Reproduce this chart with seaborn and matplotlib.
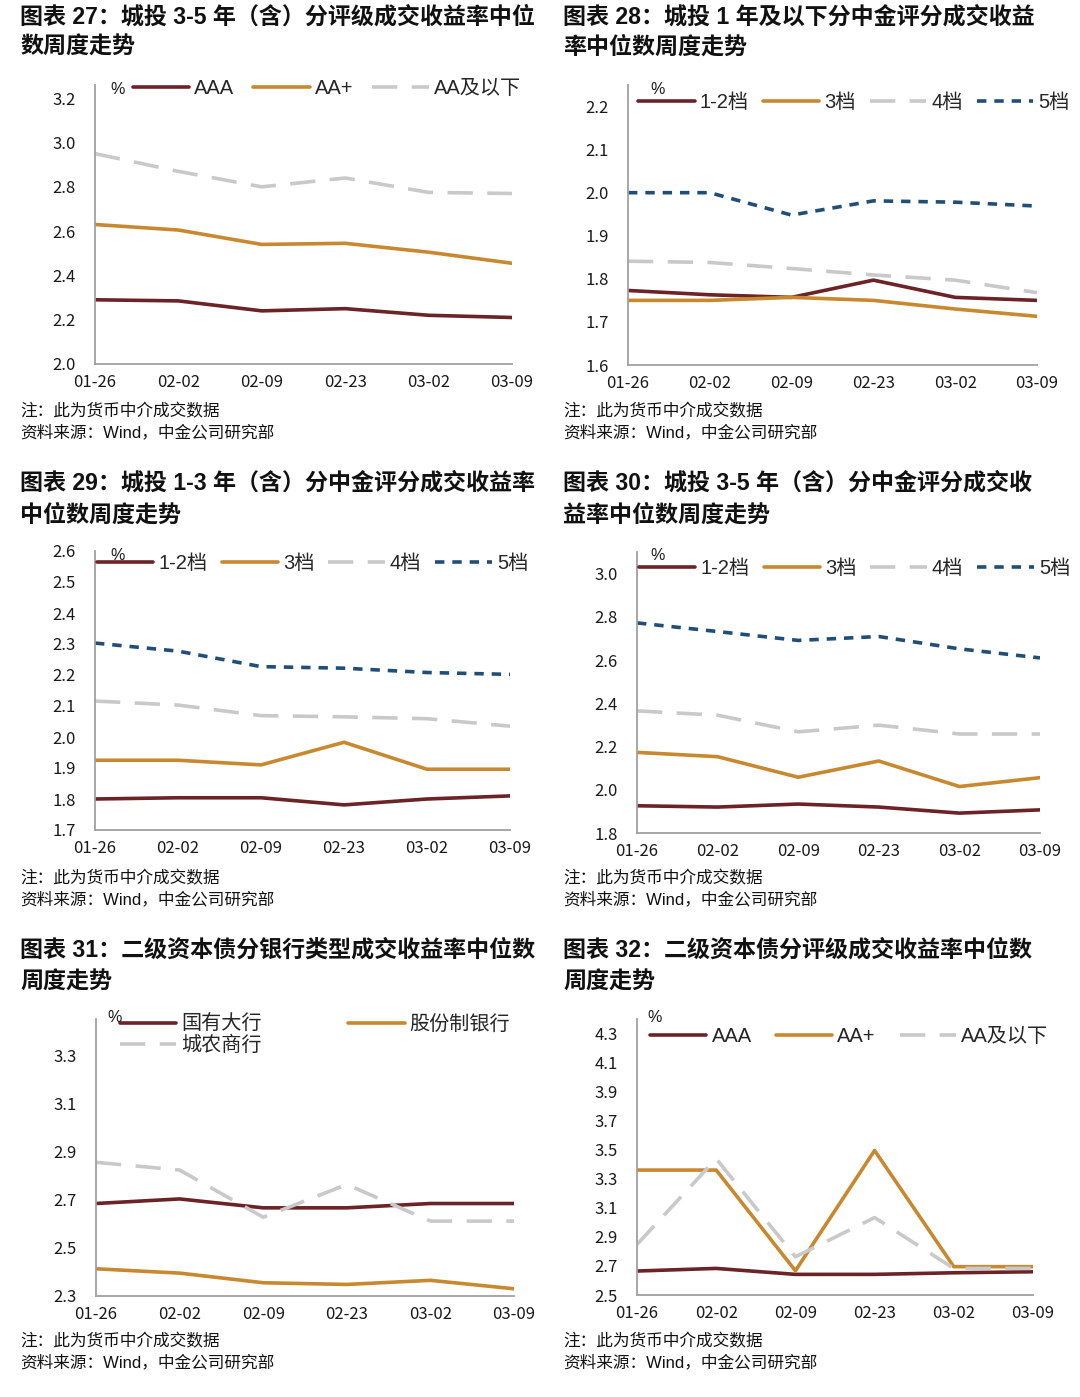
import numpy as np
import pandas as pd
import matplotlib
matplotlib.use("Agg")
import matplotlib.pyplot as plt
import seaborn as sns

# ---------------- data ----------------
dates = ['01-26', '02-02', '02-09', '02-23', '03-02', '03-09']

f27_names = ['AAA', 'AA+', 'AA及以下']
f27_aaa = [2.29, 2.285, 2.24, 2.25, 2.22, 2.21]
f27_aaplus = [2.63, 2.605, 2.54, 2.545, 2.505, 2.455]
f27_aa_below = [2.95, 2.87, 2.80, 2.84, 2.775, 2.77]

tier_names = ['1-2档', '3档', '4档', '5档']
f28_t12 = [1.773, 1.763, 1.757, 1.797, 1.757, 1.750]
f28_t3 = [1.750, 1.750, 1.757, 1.750, 1.730, 1.713]
f28_t4 = [1.841, 1.838, 1.824, 1.809, 1.797, 1.768]
f28_t5 = [2.000, 2.000, 1.948, 1.981, 1.978, 1.969]

f29_t12 = [1.800, 1.804, 1.804, 1.781, 1.800, 1.810]
f29_t3 = [1.925, 1.925, 1.910, 1.983, 1.896, 1.896]
f29_t4 = [2.116, 2.103, 2.069, 2.065, 2.059, 2.035]
f29_t5 = [2.303, 2.277, 2.227, 2.222, 2.208, 2.202]

f30_t12 = [1.926, 1.920, 1.934, 1.920, 1.892, 1.907]
f30_t3 = [2.173, 2.153, 2.058, 2.133, 2.015, 2.056]
f30_t4 = [2.365, 2.345, 2.268, 2.299, 2.258, 2.258]
f30_t5 = [2.772, 2.732, 2.691, 2.709, 2.652, 2.610]

f31_names = ['国有大行', '股份制银行', '城农商行']
f31_state = [2.684, 2.703, 2.666, 2.666, 2.684, 2.684]
f31_joint = [2.413, 2.395, 2.355, 2.348, 2.365, 2.330]
f31_rural = [2.855, 2.823, 2.627, 2.763, 2.611, 2.611]

f32_names = ['AAA', 'AA+', 'AA及以下']
f32_aaa = [2.665, 2.683, 2.642, 2.642, 2.653, 2.660]
f32_aaplus = [3.360, 3.360, 2.667, 3.495, 2.695, 2.695]
f32_aa_below = [2.848, 3.438, 2.763, 3.033, 2.683, 2.683]

titles = [
    ('图表 27：城投 3-5 年（含）分评级成交收益率中位', '数周度走势'),
    ('图表 28：城投 1 年及以下分中金评分成交收益', '率中位数周度走势'),
    ('图表 29：城投 1-3 年（含）分中金评分成交收益率', '中位数周度走势'),
    ('图表 30：城投 3-5 年（含）分中金评分成交收', '益率中位数周度走势'),
    ('图表 31：二级资本债分银行类型成交收益率中位数', '周度走势'),
    ('图表 32：二级资本债分评级成交收益率中位数', '周度走势'),
]
note1 = '注：此为货币中介成交数据'
note2 = '资料来源：Wind，中金公司研究部'

# ---------------- style ----------------
sns.set_theme(style='white')
plt.rcParams['font.family'] = ['Liberation Sans', 'Noto Sans CJK SC', 'DejaVu Sans']
plt.rcParams['axes.unicode_minus'] = False

MAROON = '#6B2327'
GOLD = '#C8882F'
GRAY = '#C9C9C9'
NAVY = '#1F4E79'
AXC = '#A0A0A0'

W, H = 1080, 1397
fig = plt.figure(figsize=(W / 100, H / 100), dpi=100)

TICKFONT = ['Noto Sans CJK SC', 'DejaVu Sans']


def add_ax(l, r, t, b):
    return fig.add_axes([l / W, 1 - b / H, (r - l) / W, (b - t) / H])


def panel(box, names, series, colors, dash_specs, yticks, ylim,
          leg_anchor, ncol, colspacing, pct_xy, handle_order=None):
    ax = add_ax(*box)
    df = pd.DataFrame({
        'date': np.tile(dates, len(names)),
        'value': np.concatenate([np.asarray(s, float) for s in series]),
        'series': np.repeat(names, len(dates)),
    })
    sns.lineplot(data=df, x='date', y='value', hue='series', style='series',
                 hue_order=names, style_order=names,
                 palette=dict(zip(names, colors)),
                 dashes=dict(zip(names, dash_specs)),
                 linewidth=2.6, ax=ax, sort=False, legend=True)
    for ln in ax.get_lines():
        ln.set_dash_capstyle('butt')
        ln.set_solid_capstyle('round')
    handles, labels = ax.get_legend_handles_labels()
    if ax.legend_ is not None:
        ax.legend_.remove()
    hmap = dict(zip(labels, handles))
    order = handle_order if handle_order else names
    for h in handles:
        h.set_dash_capstyle('butt')
        h.set_solid_capstyle('round')
    ax.legend([hmap[n] for n in order], order, loc='upper left',
              bbox_to_anchor=leg_anchor, ncol=ncol, frameon=False,
              fontsize=14.5, handlelength=2.8, handletextpad=0.25,
              columnspacing=colspacing, borderpad=0, borderaxespad=0,
              labelspacing=0.1)
    ax.set_xlim(0, len(dates) - 1)
    ax.set_ylim(*ylim)
    ax.set_yticks(yticks)
    ax.set_yticklabels([f'{v:.1f}' for v in yticks], family=TICKFONT)
    ax.set_xticks(range(len(dates)))
    ax.set_xticklabels(dates, family=TICKFONT)
    ax.set_xlabel('')
    ax.set_ylabel('')
    sns.despine(ax=ax)
    for sp in ('left', 'bottom'):
        ax.spines[sp].set_color(AXC)
        ax.spines[sp].set_linewidth(1.3)
    ax.tick_params(axis='both', direction='out', length=4, width=1.1,
                   color=AXC, labelsize=12, labelcolor='#1a1a1a', pad=3)
    ax.tick_params(axis='y', pad=10)
    fig.text(pct_xy[0] / W, 1 - pct_xy[1] / H, '%', ha='center', va='center',
             fontsize=11.5, color='#1a1a1a')
    return ax


solid = ''
gdash = (7, 4)
ndot = (2.6, 2.2)

# panel 27
panel((95, 512, 85, 364), f27_names, [f27_aaa, f27_aaplus, f27_aa_below],
      [MAROON, GOLD, GRAY], [solid, solid, gdash],
      np.round(np.arange(2.0, 3.21, 0.2), 1), (2.0, 3.26),
      (0.09, 1.02), 3, 0.95, (118, 90))
# panel 28
panel((628, 1037, 85, 365), tier_names, [f28_t12, f28_t3, f28_t4, f28_t5],
      [MAROON, GOLD, GRAY, NAVY], [solid, solid, gdash, ndot],
      np.round(np.arange(1.6, 2.21, 0.1), 1), (1.6, 2.25),
      (0.025, 0.97), 4, 0.7, (658, 89))
# panel 29
panel((95, 510, 551, 830), tier_names, [f29_t12, f29_t3, f29_t4, f29_t5],
      [MAROON, GOLD, GRAY, NAVY], [solid, solid, gdash, ndot],
      np.round(np.arange(1.7, 2.61, 0.1), 1), (1.7, 2.6),
      (0.005, 0.99), 4, 0.7, (118, 555))
# panel 30
panel((637, 1040, 552, 833), tier_names, [f30_t12, f30_t3, f30_t4, f30_t5],
      [MAROON, GOLD, GRAY, NAVY], [solid, solid, gdash, ndot],
      np.round(np.arange(1.8, 3.01, 0.2), 1), (1.8, 3.1),
      (0.005, 0.975), 4, 0.7, (658, 555))
# panel 31
panel((96, 514, 1019, 1296), f31_names, [f31_state, f31_joint, f31_rural],
      [MAROON, GOLD, GRAY], [solid, solid, gdash],
      np.round(np.arange(2.3, 3.31, 0.2), 1), (2.3, 3.45),
      (0.057, 1.015), 2, 4.3, (115, 1017),
      handle_order=['国有大行', '城农商行', '股份制银行'])
# panel 32
panel((637, 1033, 1019, 1295), f32_names, [f32_aaa, f32_aaplus, f32_aa_below],
      [MAROON, GOLD, GRAY], [solid, solid, gdash],
      np.round(np.arange(2.5, 4.31, 0.2), 1), (2.5, 4.4),
      (0.033, 0.97), 3, 1.2, (655, 1017))

# titles and notes
cols = [20, 563]
rows = [(17, 47, 411, 432), (483, 515, 878, 899), (950, 982, 1341, 1362)]
for i, (l1, l2) in enumerate(titles):
    x = cols[i % 2]
    ty1, ty2, ny1, ny2 = rows[i // 2]
    fig.text(x / W, 1 - ty1 / H, l1, ha='left', va='center', fontsize=16.6,
             fontweight='bold', color='#111111')
    fig.text(x / W, 1 - ty2 / H, l2, ha='left', va='center', fontsize=16.6,
             fontweight='bold', color='#111111')
    fig.text(x / W, 1 - ny1 / H, note1, ha='left', va='center', fontsize=12,
             color='#111111')
    fig.text(x / W, 1 - ny2 / H, note2, ha='left', va='center', fontsize=12,
             color='#111111')

fig.savefig('out.png', dpi=100, facecolor='white')
